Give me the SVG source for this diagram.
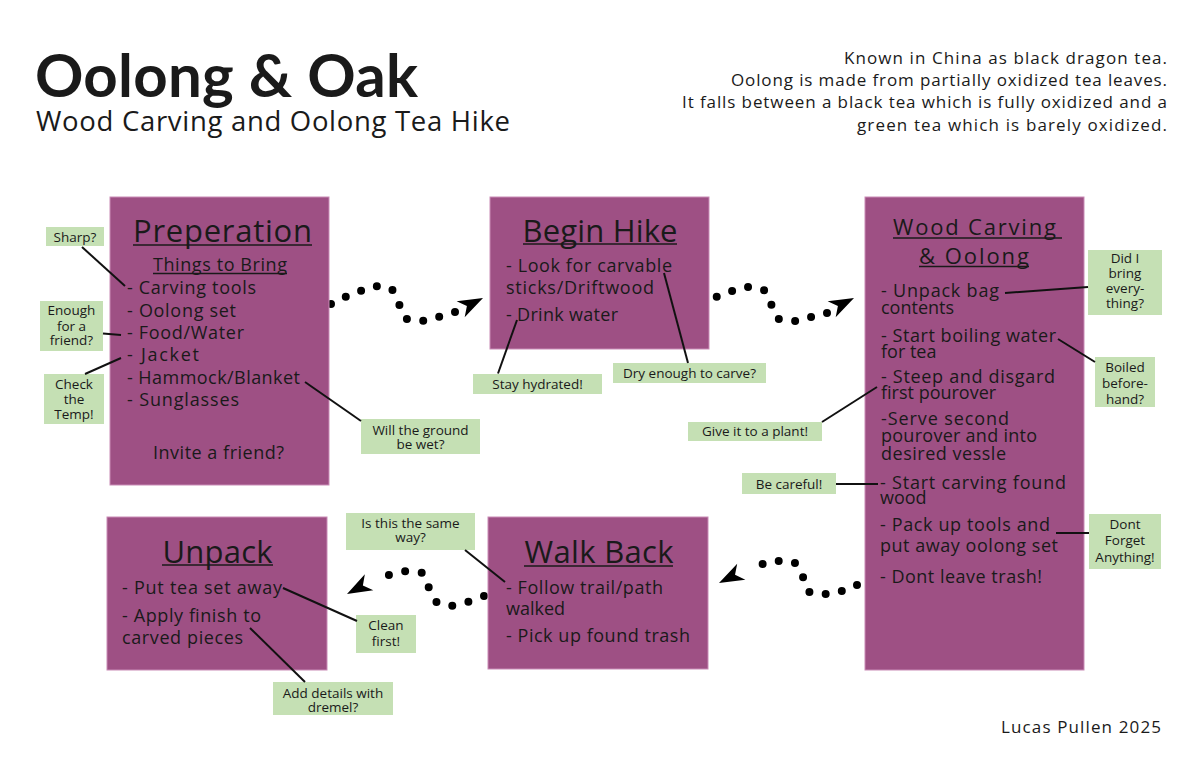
<svg xmlns="http://www.w3.org/2000/svg" xmlns:xlink="http://www.w3.org/1999/xlink" width="1200" height="776" viewBox="0 0 1200 776">
<style>
text{font-family:"Open Sans","Lato","Liberation Sans",sans-serif;fill:#1a1a1a}
.box{fill:#9e5084;stroke:#c98bb6;stroke-width:1}
.note{fill:#c5e0b4;stroke:none}
.h{font-size:31px}
.h2{font-size:22px}
.b{font-size:18px}
.n{font-size:13.5px;text-anchor:middle}
.ul{stroke:#1a1a1a;stroke-width:1.5}
.lead{stroke:#111;stroke-width:2;fill:none}
.dots{fill:none;stroke:#000;stroke-width:8;stroke-linecap:round;stroke-linejoin:round;stroke-dasharray:0 1}
.c{text-anchor:middle}
</style>
<defs>
<path id="arrowhead" d="M0,0 L-25,-9 L-18,0 L-25,9 Z" fill="#000"/>
</defs>
<rect width="1200" height="776" fill="#fff"/>

<g id="header">
<text x="35" y="97" font-size="60" font-weight="700" style="font-family:Lato,'Liberation Sans',sans-serif" textLength="383">Oolong &amp; Oak</text>
<text x="36" y="131" font-size="27.5" textLength="474">Wood Carving and Oolong Tea Hike</text>
<text x="1167" y="64" font-size="17" text-anchor="end" textLength="323">Known in China as black dragon tea.</text>
<text x="1167" y="86" font-size="17" text-anchor="end" textLength="436">Oolong is made from partially oxidized tea leaves.</text>
<text x="1167" y="108" font-size="17" text-anchor="end" textLength="485">It falls between a black tea which is fully oxidized and a</text>
<text x="1167" y="131" font-size="17" text-anchor="end" textLength="310">green tea which is barely oxidized.</text>
<text x="1161" y="733" font-size="17" text-anchor="end" textLength="160">Lucas Pullen 2025</text>
</g>

<g id="connectors">
<path class="dots" pathLength="9" d="M331,304 L345,297 L360,291 L376,286 L392,289 L399,304 L406,319 L422,321 L438,317 L455,312"/>
<use xlink:href="#arrowhead" href="#arrowhead" transform="translate(483,298) rotate(-26.6)"/>
<path class="dots" pathLength="9" d="M702,304 L716,297 L732,291 L748,287 L764,290 L771,304 L778,319 L795,321 L811,317 L827,313"/>
<use xlink:href="#arrowhead" href="#arrowhead" transform="translate(854,298) rotate(-26.6)"/>
<path class="dots" pathLength="8" d="M857,585 L842,591 L825,594 L809,592 L803,577 L795,563 L779,561 L763,564 L747,569"/>
<use xlink:href="#arrowhead" href="#arrowhead" transform="translate(719,583) rotate(153)"/>
<path class="dots" pathLength="8" d="M484,596 L468,602 L453,606 L437,603 L429,588 L423,573 L406,571 L389,575 L373,580"/>
<use xlink:href="#arrowhead" href="#arrowhead" transform="translate(347,594) rotate(152)"/>
</g>

<g id="preperation">
<rect class="box" x="110" y="197" width="219" height="288"/>
<text class="h c" x="222.5" y="242" textLength="179">Preperation</text>
<line class="ul" x1="133" y1="245" x2="312" y2="245"/>
<text class="b c" x="220" y="271" textLength="134">Things to Bring</text>
<line class="ul" x1="153" y1="273.5" x2="287" y2="273.5"/>
<text class="b" x="127" y="294" textLength="129">- Carving tools</text>
<text class="b" x="127" y="316.5" textLength="109">- Oolong set</text>
<text class="b" x="127" y="339" textLength="117">- Food/Water</text>
<text class="b" x="127" y="361" textLength="72">- Jacket</text>
<text class="b" x="127" y="383.5" textLength="173">- Hammock/Blanket</text>
<text class="b" x="127" y="406" textLength="112">- Sunglasses</text>
<text class="b" x="153" y="459" textLength="131">Invite a friend?</text>
</g>

<g id="begin-hike">
<rect class="box" x="490" y="197" width="219" height="152"/>
<text class="h c" x="600" y="241.5" textLength="155">Begin Hike</text>
<line class="ul" x1="523" y1="244" x2="677" y2="244"/>
<text class="b" x="506" y="272" textLength="166">- Look for carvable</text>
<text class="b" x="506" y="294" textLength="148">sticks/Driftwood</text>
<text class="b" x="506" y="321" textLength="112">- Drink water</text>
</g>

<g id="wood-carving">
<rect class="box" x="865" y="197" width="219" height="473"/>
<text class="h2" x="893" y="235" textLength="163">Wood Carving</text>
<line class="ul" x1="893" y1="238" x2="1062" y2="238"/>
<text class="h2" x="919" y="264" textLength="110">&amp; Oolong</text>
<line class="ul" x1="919" y1="266.5" x2="1029" y2="266.5"/>
<text class="b" x="881" y="297" textLength="118">- Unpack bag</text>
<text class="b" x="881" y="313.5">contents</text>
<text class="b" x="881" y="341.5" textLength="175">- Start boiling water</text>
<text class="b" x="881" y="357.5">for tea</text>
<text class="b" x="881" y="382.5" textLength="174">- Steep and disgard</text>
<text class="b" x="881" y="399">first pourover</text>
<text class="b" x="881" y="425" textLength="128">-Serve second</text>
<text class="b" x="881" y="441.5" textLength="156">pourover and into</text>
<text class="b" x="881" y="460" textLength="125">desired vessle</text>
<text class="b" x="880" y="489" textLength="186">- Start carving found</text>
<text class="b" x="880" y="504">wood</text>
<text class="b" x="880" y="530.5" textLength="170">- Pack up tools and</text>
<text class="b" x="880" y="551.5" textLength="178">put away oolong set</text>
<text class="b" x="880" y="583" textLength="162">- Dont leave trash!</text>
</g>

<g id="walk-back">
<rect class="box" x="488" y="517" width="220" height="152"/>
<text class="h c" x="599" y="563" textLength="149">Walk Back</text>
<line class="ul" x1="524" y1="566" x2="673" y2="566"/>
<text class="b" x="506" y="593.5" textLength="157">- Follow trail/path</text>
<text class="b" x="506" y="615">walked</text>
<text class="b" x="506" y="641.5" textLength="184">- Pick up found trash</text>
</g>

<g id="unpack">
<rect class="box" x="107" y="517" width="220" height="153"/>
<text class="h c" x="217.5" y="562.5" textLength="110">Unpack</text>
<line class="ul" x1="162" y1="565" x2="273" y2="565"/>
<text class="b" x="122" y="593.5" textLength="160">- Put tea set away</text>
<text class="b" x="122" y="621.5" textLength="139">- Apply finish to</text>
<text class="b" x="122" y="643.5" textLength="121">carved pieces</text>
</g>

<g id="note-sharp">
<rect class="note" x="46" y="227" width="58" height="19"/>
<text class="n" x="75" y="241.5">Sharp?</text>
<line class="lead" x1="82" y1="247" x2="125" y2="286"/>
</g>
<g id="note-enough">
<rect class="note" x="40" y="301" width="63" height="50"/>
<text class="n" x="71.5" y="315">Enough</text>
<text class="n" x="71.5" y="330.5">for a</text>
<text class="n" x="71.5" y="345">friend?</text>
<line class="lead" x1="103" y1="333.5" x2="121" y2="335"/>
</g>
<g id="note-temp">
<rect class="note" x="44" y="374" width="60" height="50"/>
<text class="n" x="74" y="389">Check</text>
<text class="n" x="74" y="404">the</text>
<text class="n" x="74" y="418.5">Temp!</text>
<line class="lead" x1="85" y1="374" x2="121" y2="358"/>
</g>
<g id="note-ground">
<rect class="note" x="361" y="419" width="119" height="35"/>
<text class="n" x="420.5" y="434.5">Will the ground</text>
<text class="n" x="420.5" y="449">be wet?</text>
<line class="lead" x1="305" y1="382" x2="361" y2="421"/>
</g>
<g id="note-hydrated">
<rect class="note" x="473" y="374" width="129" height="20"/>
<text class="n" x="537.5" y="388.5">Stay hydrated!</text>
<line class="lead" x1="498" y1="373.5" x2="517" y2="320"/>
</g>
<g id="note-dry">
<rect class="note" x="613" y="363" width="153" height="20"/>
<text class="n" x="689.5" y="378">Dry enough to carve?</text>
<line class="lead" x1="688" y1="363" x2="664" y2="273"/>
</g>
<g id="note-bring">
<rect class="note" x="1088" y="250" width="74" height="65"/>
<text class="n" x="1125" y="263">Did I</text>
<text class="n" x="1125" y="278">bring</text>
<text class="n" x="1125" y="293">every-</text>
<text class="n" x="1125" y="308">thing?</text>
<line class="lead" x1="1005" y1="293" x2="1088" y2="287"/>
</g>
<g id="note-boiled">
<rect class="note" x="1095" y="357" width="60" height="50"/>
<text class="n" x="1125" y="372">Boiled</text>
<text class="n" x="1125" y="388">before-</text>
<text class="n" x="1125" y="404">hand?</text>
<line class="lead" x1="1058" y1="339" x2="1095" y2="362"/>
</g>
<g id="note-plant">
<rect class="note" x="688" y="422" width="134" height="19"/>
<text class="n" x="755" y="436">Give it to a plant!</text>
<line class="lead" x1="822" y1="422" x2="877" y2="387"/>
</g>
<g id="note-careful">
<rect class="note" x="742" y="473" width="94" height="21"/>
<text class="n" x="789" y="488.5">Be careful!</text>
<line class="lead" x1="836" y1="484" x2="878" y2="484"/>
</g>
<g id="note-forget">
<rect class="note" x="1089" y="514" width="72" height="55"/>
<text class="n" x="1125" y="528.5">Dont</text>
<text class="n" x="1125" y="545">Forget</text>
<text class="n" x="1125" y="561.5">Anything!</text>
<line class="lead" x1="1056" y1="533" x2="1089" y2="533"/>
</g>
<g id="note-sameway">
<rect class="note" x="346" y="513" width="129" height="37"/>
<text class="n" x="410.5" y="528">Is this the same</text>
<text class="n" x="410.5" y="542">way?</text>
<line class="lead" x1="465" y1="550" x2="505" y2="582"/>
</g>
<g id="note-clean">
<rect class="note" x="356" y="615" width="60" height="38"/>
<text class="n" x="386" y="629.5">Clean</text>
<text class="n" x="386" y="645.5">first!</text>
<line class="lead" x1="283" y1="588" x2="357" y2="621"/>
</g>
<g id="note-dremel">
<rect class="note" x="273" y="682" width="120" height="33"/>
<text class="n" x="333" y="698">Add details with</text>
<text class="n" x="333" y="712">dremel?</text>
<line class="lead" x1="250" y1="628" x2="305" y2="682"/>
</g>
</svg>
